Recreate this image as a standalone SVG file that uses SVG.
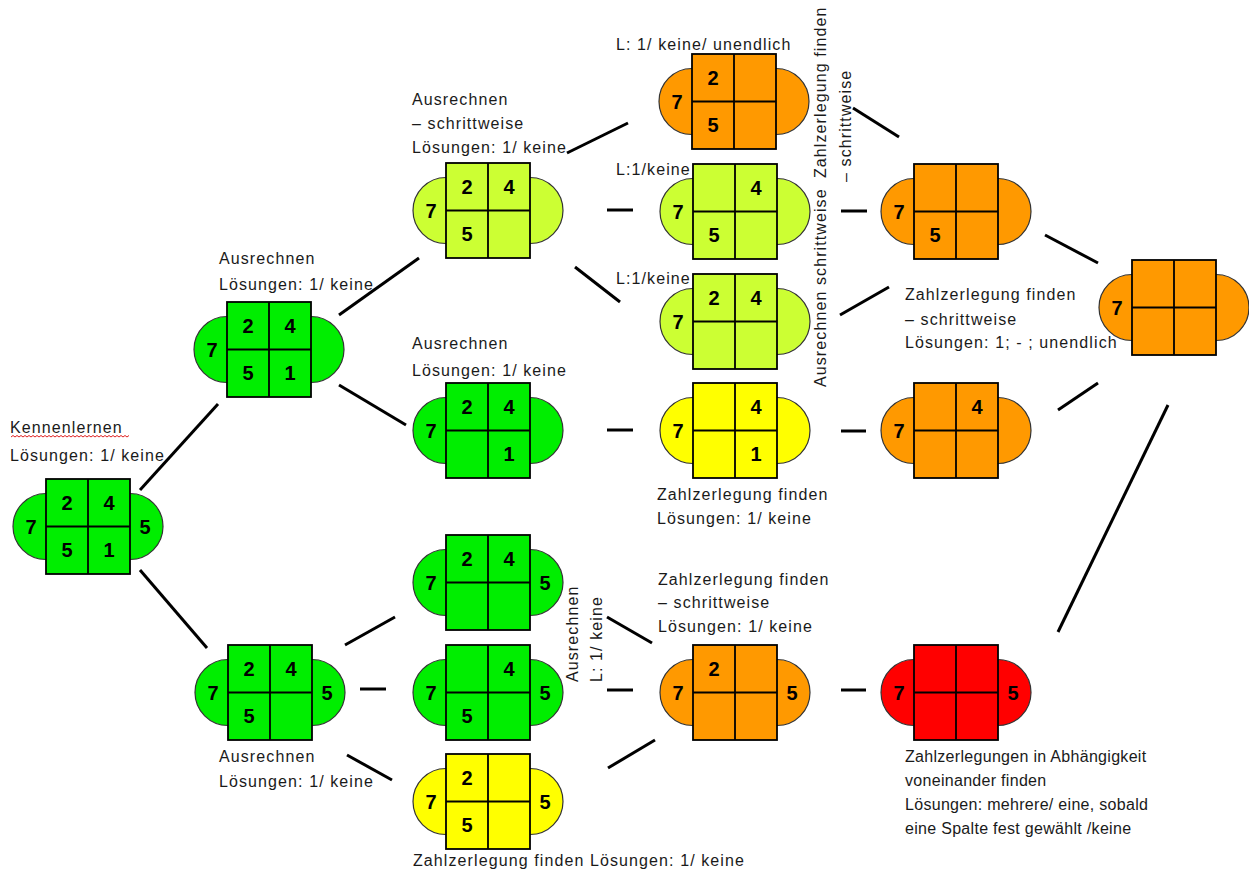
<svg xmlns="http://www.w3.org/2000/svg" xmlns:xlink="http://www.w3.org/1999/xlink" width="1249" height="870" viewBox="0 0 1249 870">
<style>
.cap{stroke:#333;stroke-width:1.2}
.box{stroke:#000;stroke-width:1.8}
.div{fill:none;stroke:#000;stroke-width:1.8}
.green{fill:#00ee00}
.lime{fill:#ccff33}
.orange{fill:#ff9900}
.yellow{fill:#ffff00}
.red{fill:#ff0000}
.num{font-family:"Liberation Sans",Arial,sans-serif;font-weight:bold;font-size:20px;fill:#000;text-anchor:middle}
.lbl{font-family:"Liberation Sans",Arial,sans-serif;font-size:16px;fill:#1a1a1a;letter-spacing:1.1px}
.lbl2{font-family:"Liberation Sans",Arial,sans-serif;font-size:16px;fill:#1a1a1a;letter-spacing:0.3px}
.conn line{stroke:#000;stroke-width:3;stroke-linecap:butt}
</style>
<defs>
<g id="shape">
<ellipse class="cap" cx="0" cy="47.5" rx="33" ry="33"/>
<ellipse class="cap" cx="84" cy="47.5" rx="33" ry="33"/>
<rect class="box" x="0" y="0" width="84" height="95"/>
<path class="div" d="M42 0V95M0 47.5H84"/>
</g>
</defs>
<rect width="1249" height="870" fill="#fff"/>

<g id="connectors" class="conn">
<line x1="140" y1="490" x2="218" y2="404"/>
<line x1="140" y1="570" x2="207" y2="648"/>
<line x1="339" y1="315" x2="419" y2="258"/>
<line x1="339" y1="385" x2="406" y2="425"/>
<line x1="567" y1="153" x2="628" y2="123"/>
<line x1="607" y1="210" x2="633" y2="210"/>
<line x1="575" y1="267" x2="620" y2="302"/>
<line x1="841" y1="211" x2="867" y2="211"/>
<line x1="840" y1="315" x2="889" y2="287"/>
<line x1="853" y1="108" x2="899" y2="137"/>
<line x1="607" y1="430" x2="633" y2="430"/>
<line x1="841" y1="431" x2="866" y2="431"/>
<line x1="1045" y1="235" x2="1098" y2="263"/>
<line x1="1058" y1="410" x2="1098" y2="383"/>
<line x1="1058" y1="632" x2="1168" y2="405"/>
<line x1="345" y1="645" x2="395" y2="617"/>
<line x1="360" y1="689" x2="386" y2="689"/>
<line x1="347" y1="755" x2="392" y2="780"/>
<line x1="607" y1="617" x2="652" y2="643"/>
<line x1="607" y1="690" x2="633" y2="690"/>
<line x1="608" y1="768" x2="655" y2="740"/>
<line x1="841" y1="690" x2="866" y2="690"/>
</g>

<g id="n1" transform="translate(46,479)">
<use xlink:href="#shape" class="green"/>
<text class="num" x="-15" y="54.5">7</text><text class="num" x="99" y="54.5">5</text>
<text class="num" x="21" y="31">2</text><text class="num" x="63" y="31">4</text>
<text class="num" x="21" y="78">5</text><text class="num" x="63" y="78">1</text>
</g>
<g id="n1-label">
<text class="lbl" x="10" y="433">Kennenlernen</text>
<path d="M11 437 l2 -1.5 l2 1.5 l2 -1.5 l2 1.5 l2 -1.5 l2 1.5 l2 -1.5 l2 1.5 l2 -1.5 l2 1.5 l2 -1.5 l2 1.5 l2 -1.5 l2 1.5 l2 -1.5 l2 1.5 l2 -1.5 l2 1.5 l2 -1.5 l2 1.5 l2 -1.5 l2 1.5 l2 -1.5 l2 1.5 l2 -1.5 l2 1.5 l2 -1.5 l2 1.5 l2 -1.5 l2 1.5 l2 -1.5 l2 1.5 l2 -1.5 l2 1.5 l2 -1.5 l2 1.5 l2 -1.5 l2 1.5 l2 -1.5 l2 1.5 l2 -1.5 l2 1.5 l2 -1.5 l2 1.5 l2 -1.5 l2 1.5 l2 -1.5 l2 1.5 l2 -1.5 l2 1.5 l2 -1.5 l2 1.5 l2 -1.5 l2 1.5 l2 -1.5 l2 1.5 l2 -1.5 l2 1.5 l2 -1.5" fill="none" stroke="#e02020" stroke-width="1"/>
<text class="lbl" x="10" y="461">Lösungen: 1/ keine</text>
</g>

<g id="n2" transform="translate(227,302)">
<use xlink:href="#shape" class="green"/>
<text class="num" x="-15" y="54.5">7</text>
<text class="num" x="21" y="31">2</text><text class="num" x="63" y="31">4</text>
<text class="num" x="21" y="78">5</text><text class="num" x="63" y="78">1</text>
</g>
<g id="n2-label">
<text class="lbl" x="219" y="264">Ausrechnen</text>
<text class="lbl" x="219" y="290">Lösungen: 1/ keine</text>
</g>

<g id="n3" transform="translate(446,163)">
<use xlink:href="#shape" class="lime"/>
<text class="num" x="-15" y="54.5">7</text>
<text class="num" x="21" y="31">2</text><text class="num" x="63" y="31">4</text>
<text class="num" x="21" y="78">5</text>
</g>
<g id="n3-label">
<text class="lbl" x="412" y="105">Ausrechnen</text>
<text class="lbl" x="412" y="129">– schrittweise</text>
<text class="lbl" x="412" y="153">Lösungen: 1/ keine</text>
</g>

<g id="n4" transform="translate(446,383)">
<use xlink:href="#shape" class="green"/>
<text class="num" x="-15" y="54.5">7</text>
<text class="num" x="21" y="31">2</text><text class="num" x="63" y="31">4</text>
<text class="num" x="63" y="78">1</text>
</g>
<g id="n4-label">
<text class="lbl" x="412" y="349">Ausrechnen</text>
<text class="lbl" x="412" y="376">Lösungen: 1/ keine</text>
</g>

<g id="n5" transform="translate(692,54)">
<use xlink:href="#shape" class="orange"/>
<text class="num" x="-15" y="54.5">7</text>
<text class="num" x="21" y="31">2</text>
<text class="num" x="21" y="78">5</text>
</g>
<g id="n5-label">
<text class="lbl" x="616" y="50">L: 1/ keine/ unendlich</text>
</g>

<g id="n6" transform="translate(693,164)">
<use xlink:href="#shape" class="lime"/>
<text class="num" x="-15" y="54.5">7</text>
<text class="num" x="63" y="31">4</text>
<text class="num" x="21" y="78">5</text>
</g>
<g id="n6-label">
<text class="lbl" x="616" y="175">L:1/keine</text>
</g>

<g id="n7" transform="translate(693,274)">
<use xlink:href="#shape" class="lime"/>
<text class="num" x="-15" y="54.5">7</text>
<text class="num" x="21" y="31">2</text><text class="num" x="63" y="31">4</text>
</g>
<g id="n7-label">
<text class="lbl" x="616" y="284">L:1/keine</text>
</g>

<g id="n8" transform="translate(693,383)">
<use xlink:href="#shape" class="yellow"/>
<text class="num" x="-15" y="54.5">7</text>
<text class="num" x="63" y="31">4</text>
<text class="num" x="63" y="78">1</text>
</g>
<g id="n8-label">
<text class="lbl" x="657" y="500">Zahlzerlegung finden</text>
<text class="lbl" x="657" y="524">Lösungen: 1/ keine</text>
</g>

<g id="n9" transform="translate(914,164)">
<use xlink:href="#shape" class="orange"/>
<text class="num" x="-15" y="54.5">7</text>
<text class="num" x="21" y="78">5</text>
</g>

<g id="n10" transform="translate(914,383)">
<use xlink:href="#shape" class="orange"/>
<text class="num" x="-15" y="54.5">7</text>
<text class="num" x="63" y="31">4</text>
</g>

<g id="n11" transform="translate(1132,260)">
<use xlink:href="#shape" class="orange"/>
<text class="num" x="-15" y="54.5">7</text>
</g>

<g id="vertical-labels">
<text class="lbl" transform="translate(826,178) rotate(-90)">Zahlzerlegung finden</text>
<text class="lbl" transform="translate(851,182) rotate(-90)">– schrittweise</text>
<text class="lbl" transform="translate(826,387) rotate(-90)">Ausrechnen schrittweise</text>
<text class="lbl" transform="translate(578,682) rotate(-90)">Ausrechnen</text>
<text class="lbl" transform="translate(602,682) rotate(-90)">L: 1/ keine</text>
</g>

<g id="n9-label">
<text class="lbl" x="905" y="300">Zahlzerlegung finden</text>
<text class="lbl" x="905" y="325">– schrittweise</text>
<text class="lbl" x="905" y="348">Lösungen: 1; - ; unendlich</text>
</g>

<g id="n12" transform="translate(228,645)">
<use xlink:href="#shape" class="green"/>
<text class="num" x="-15" y="54.5">7</text><text class="num" x="99" y="54.5">5</text>
<text class="num" x="21" y="31">2</text><text class="num" x="63" y="31">4</text>
<text class="num" x="21" y="78">5</text>
</g>
<g id="n12-label">
<text class="lbl" x="219" y="762">Ausrechnen</text>
<text class="lbl" x="219" y="787">Lösungen: 1/ keine</text>
</g>

<g id="n13" transform="translate(446,535)">
<use xlink:href="#shape" class="green"/>
<text class="num" x="-15" y="54.5">7</text><text class="num" x="99" y="54.5">5</text>
<text class="num" x="21" y="31">2</text><text class="num" x="63" y="31">4</text>
</g>

<g id="n14" transform="translate(446,645)">
<use xlink:href="#shape" class="green"/>
<text class="num" x="-15" y="54.5">7</text><text class="num" x="99" y="54.5">5</text>
<text class="num" x="63" y="31">4</text>
<text class="num" x="21" y="78">5</text>
</g>

<g id="n15" transform="translate(446,754)">
<use xlink:href="#shape" class="yellow"/>
<text class="num" x="-15" y="54.5">7</text><text class="num" x="99" y="54.5">5</text>
<text class="num" x="21" y="31">2</text>
<text class="num" x="21" y="78">5</text>
</g>
<g id="n15-label">
<text class="lbl" x="413" y="866">Zahlzerlegung finden Lösungen: 1/ keine</text>
</g>

<g id="n16" transform="translate(693,645)">
<use xlink:href="#shape" class="orange"/>
<text class="num" x="-15" y="54.5">7</text><text class="num" x="99" y="54.5">5</text>
<text class="num" x="21" y="31">2</text>
</g>
<g id="n16-label">
<text class="lbl" x="658" y="585">Zahlzerlegung finden</text>
<text class="lbl" x="658" y="608">– schrittweise</text>
<text class="lbl" x="658" y="632">Lösungen: 1/ keine</text>
</g>

<g id="n17" transform="translate(914,645)">
<use xlink:href="#shape" class="red"/>
<text class="num" x="-15" y="54.5">7</text><text class="num" x="99" y="54.5">5</text>
</g>
<g id="n17-label">
<text class="lbl2" x="905" y="762">Zahlzerlegungen in Abhängigkeit</text>
<text class="lbl2" x="905" y="786">voneinander finden</text>
<text class="lbl2" x="905" y="810">Lösungen: mehrere/ eine, sobald</text>
<text class="lbl2" x="905" y="834">eine Spalte fest gewählt /keine</text>
</g>
</svg>
